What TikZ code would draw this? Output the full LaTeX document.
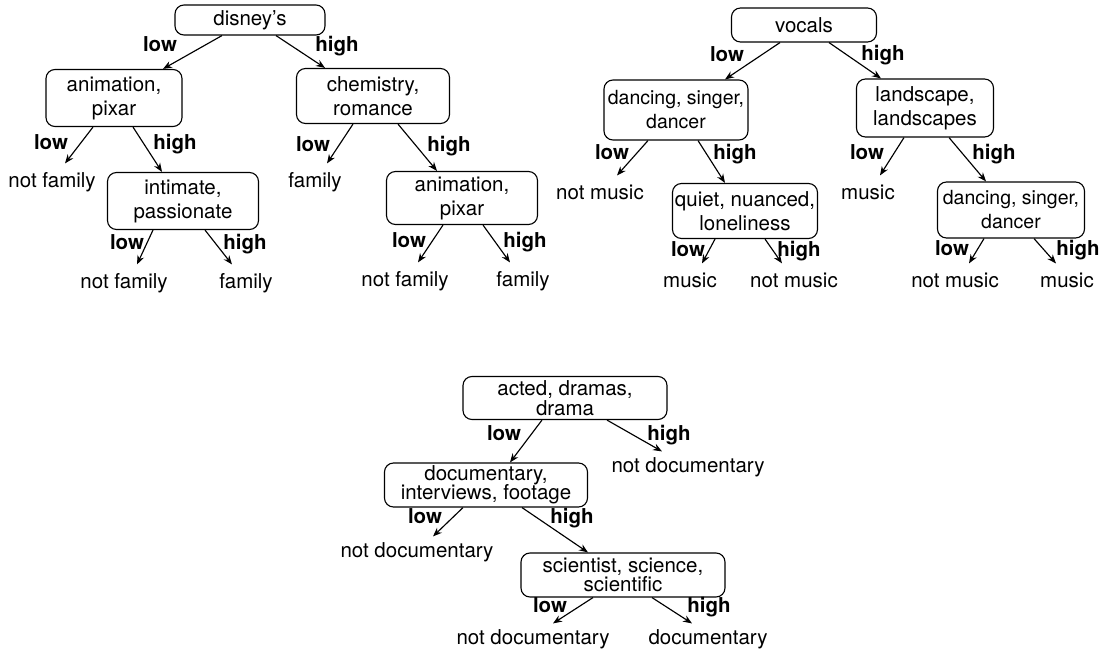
\documentclass[tikz,border=0pt]{standalone}
\usepackage{fontspec}
\setmainfont{TeX Gyre Heros}
\usetikzlibrary{arrows.meta}

\begin{document}
\begin{tikzpicture}[x=1pt, y=-1pt, >={Stealth[length=9pt,width=7pt]}, line width=1.15pt,
    box/.style={draw, rounded corners=9pt, align=center, inner sep=0pt, font=\fontsize{20.5}{24}\selectfont},
    leaf/.style={font=\fontsize{20.5}{24}\selectfont, text height=15pt, text depth=5pt, inner xsep=1pt, inner ysep=9pt},
    lbl/.style={font=\bfseries\fontsize{20.5}{24}\selectfont, text height=15pt, text depth=5pt, inner sep=0pt}]
                \useasboundingbox (0,0) rectangle (1101,652);

                % family tree
                \node[box, minimum width=150, minimum height=30] (disney) at (250,20) {disney's};
                \node[box, minimum width=136, minimum height=57] (anim1) at (114,98) {animation,\\pixar};
                \node[box, minimum width=153, minimum height=55] (chem) at (373,96) {chemistry,\\romance};
                \node[box, minimum width=151, minimum height=57] (intim) at (183,201) {intimate,\\passionate};
                \node[box, minimum width=151, minimum height=53] (anim2) at (462,198) {animation,\\pixar};
                \node[leaf] (nf1) at (52,183) {not family};
                \node[leaf] (fam1) at (315,183) {family};
                \node[leaf] (nf2) at (124,284) {not family};
                \node[leaf] (fam2) at (246,284) {family};
                \node[leaf] (nf3) at (405,282) {not family};
                \node[leaf] (fam3) at (523,282) {family};

                \draw[->] ([xshift=-28]disney.south) -- ([xshift=49]anim1.north);
                \draw[->] ([xshift=26]disney.south) -- ([xshift=-48]chem.north);
                \draw[->] ([xshift=-21]anim1.south) -- ([xshift=13]nf1.north);
                \draw[->] ([xshift=19]anim1.south) -- ([xshift=-21]intim.north);
                \draw[->] ([xshift=-20]chem.south) -- ([xshift=12]fam1.north);
                \draw[->] ([xshift=25]chem.south) -- ([xshift=-25]anim2.north);
                \draw[->] ([xshift=-30]intim.south) -- ([xshift=13]nf2.north);
                \draw[->] ([xshift=22]intim.south) -- ([xshift=-14]fam2.north);
                \draw[->] ([xshift=-19]anim2.south) -- ([xshift=13]nf3.north);
                \draw[->] ([xshift=21]anim2.south) -- ([xshift=-13]fam3.north);

                \node[lbl] (lo1) at (160,47) {low};
                \node[lbl] (hi1) at (337,47) {high};
                \node[lbl] (lo2) at (51,145) {low};
                \node[lbl] (hi2) at (175,145) {high};
                \node[lbl] (lo3) at (313,147) {low};
                \node[lbl] (hi3) at (449,147) {high};
                \node[lbl] (lo4) at (127,245) {low};
                \node[lbl] (hi4) at (245,245) {high};
                \node[lbl] (lo5) at (409,243) {low};
                \node[lbl] (hi5) at (525,243) {high};

                % music tree
                \node[box, minimum width=145, minimum height=34] (vocals) at (804,25) {vocals};
                \node[box, minimum width=144, minimum height=60, font=\fontsize{19.5}{24}\selectfont] (dance1) at (676,110) {dancing, singer,\\dancer};
                \node[box, minimum width=137, minimum height=58] (land) at (925,108) {landscape,\\landscapes};
                \node[box, minimum width=145, minimum height=55] (quiet) at (745,211) {quiet, nuanced,\\loneliness};
                \node[box, minimum width=147, minimum height=56, font=\fontsize{19.5}{24}\selectfont] (dance2) at (1011,210) {dancing, singer,\\dancer};
                \node[leaf] (nm1) at (600,195) {not music};
                \node[leaf] (mus1) at (690,283) {music};
                \node[leaf] (nm2) at (794,283) {not music};
                \node[leaf] (mus2) at (868,195) {music};
                \node[leaf] (nm3) at (955,283) {not music};
                \node[leaf] (mus3) at (1067,283) {music};

                \draw[->] ([xshift=-24]vocals.south) -- ([xshift=49]dance1.north);
                \draw[->] ([xshift=25]vocals.south) -- ([xshift=-44]land.north);
                \draw[->] ([xshift=-28]dance1.south) -- ([xshift=17]nm1.north);
                \draw[->] ([xshift=22]dance1.south) -- ([xshift=-20]quiet.north);
                \draw[->] ([xshift=-30]quiet.south) -- ([xshift=12]mus1.north);
                \draw[->] ([xshift=20]quiet.south) -- ([xshift=-12]nm2.north);
                \draw[->] ([xshift=-21]land.south) -- ([xshift=12]mus2.north);
                \draw[->] ([xshift=24]land.south) -- ([xshift=-25]dance2.north);
                \draw[->] ([xshift=-27]dance2.south) -- ([xshift=14]nm3.north);
                \draw[->] ([xshift=23]dance2.south) -- ([xshift=-11]mus3.north);

                \node[lbl] (lo6) at (727,57) {low};
                \node[lbl] (hi6) at (883,56) {high};
                \node[lbl] (lo7) at (612,155) {low};
                \node[lbl] (hi7) at (735,155) {high};
                \node[lbl] (lo8) at (688,252) {low};
                \node[lbl] (hi8) at (799,252) {high};
                \node[lbl] (lo9) at (867,155) {low};
                \node[lbl] (hi9) at (994,155) {high};
                \node[lbl] (lo10) at (952,251) {low};
                \node[lbl] (hi10) at (1078,251) {high};

                % documentary tree
                \node[box, minimum width=204, minimum height=43, font=\fontsize{20.5}{19.5}\selectfont] (acted) at (565,398) {acted, dramas,\\drama};
                \node[box, minimum width=203, minimum height=44, font=\fontsize{20.5}{19.5}\selectfont] (docu) at (486,485) {documentary,\\interviews, footage};
                \node[box, minimum width=204, minimum height=44, font=\fontsize{20.5}{19.5}\selectfont] (sci) at (623,575) {scientist, science,\\scientific};
                \node[leaf, inner ysep=5pt] (nd1) at (688,467) {not documentary};
                \node[leaf, inner ysep=5pt] (nd2) at (417,552) {not documentary};
                \node[leaf, inner ysep=5pt] (nd3) at (533,639) {not documentary};
                \node[leaf, inner ysep=5pt] (doc) at (708,639) {documentary};

                \draw[->] ([xshift=42]acted.south) -- ([xshift=-26]nd1.north);
                \draw[->] ([xshift=-23]acted.south) -- ([xshift=24]docu.north);
                \draw[->] ([xshift=-23]docu.south) -- ([xshift=16]nd2.north);
                \draw[->] ([xshift=36]docu.south) -- ([xshift=-35]sci.north);
                \draw[->] ([xshift=-30]sci.south) -- ([xshift=20]nd3.north);
                \draw[->] ([xshift=29]sci.south) -- ([xshift=-16]doc.north);

                \node[lbl] (lo11) at (504,435) {low};
                \node[lbl] (hi11) at (669,435) {high};
                \node[lbl] (lo12) at (425,518) {low};
                \node[lbl] (hi12) at (572,518) {high};
                \node[lbl] (lo13) at (550,607) {low};
                \node[lbl] (hi13) at (709,607) {high};
\end{tikzpicture}
\end{document}
